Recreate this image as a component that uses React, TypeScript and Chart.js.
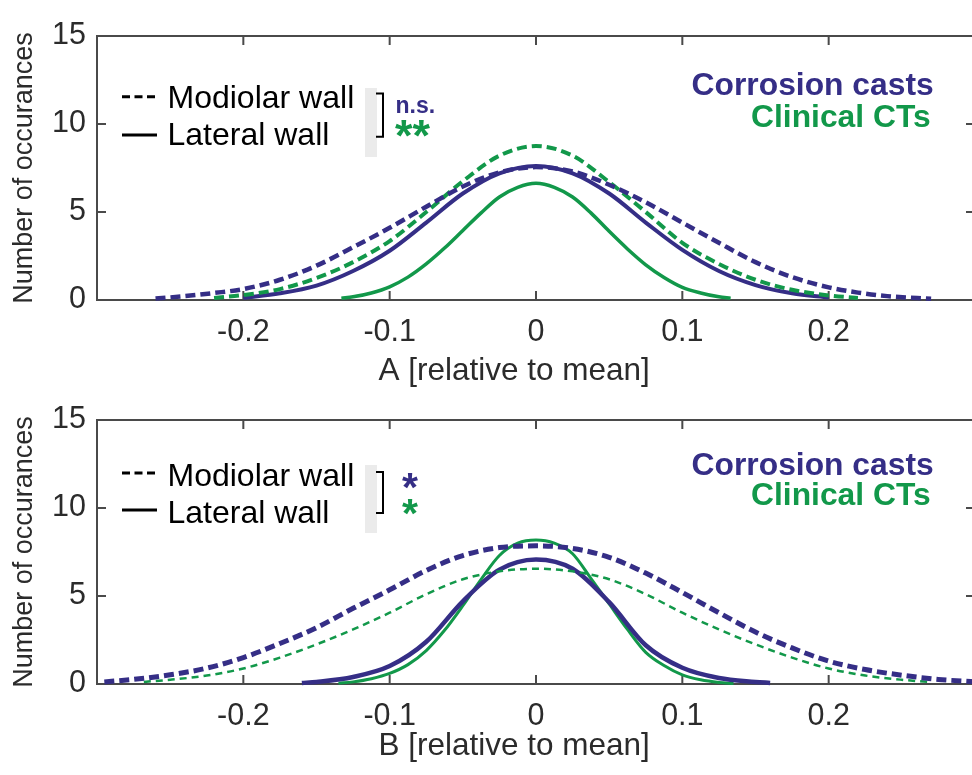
import React, { useEffect, useRef } from 'react';
import { Chart, registerables } from 'chart.js';

Chart.register(...registerables);

const FONT = "'Liberation Sans', Arial, Helvetica, sans-serif";
const BLUE = '#352e86';
const GREEN = '#12984a';
const AXIS = '#4a4a4a';
const TICKTXT = '#2b2b2b';

// Axis ticks
const xTicks = [-0.2, -0.1, 0, 0.1, 0.2];
const yTicks = [0, 5, 10, 15];
const xRange = [-0.3, 0.3];
const yRange = [0, 15];

// ---- Panel A (top) ----
const castsModiolarA_x = [-0.26, -0.24, -0.22, -0.2, -0.175, -0.15, -0.125, -0.1, -0.075, -0.05, -0.025, 0, 0.025, 0.05, 0.075, 0.1, 0.125, 0.15, 0.175, 0.2, 0.22, 0.24, 0.27];
const castsModiolarA_y = [0.08, 0.22, 0.4, 0.62, 1.15, 1.95, 3.0, 4.1, 5.3, 6.45, 7.25, 7.55, 7.3, 6.55, 5.55, 4.4, 3.25, 2.15, 1.3, 0.72, 0.42, 0.22, 0.07];

const castsLateralA_x = [-0.2, -0.175, -0.15, -0.125, -0.1, -0.075, -0.05, -0.025, 0, 0.025, 0.05, 0.075, 0.1, 0.125, 0.15, 0.175, 0.2];
const castsLateralA_y = [0.12, 0.38, 0.82, 1.65, 2.8, 4.4, 6.05, 7.2, 7.62, 7.2, 6.05, 4.4, 2.85, 1.65, 0.85, 0.38, 0.14];

const ctModiolarA_x = [-0.22, -0.2, -0.175, -0.15, -0.125, -0.1, -0.075, -0.05, -0.025, 0, 0.025, 0.05, 0.075, 0.1, 0.125, 0.15, 0.175, 0.2, 0.22];
const ctModiolarA_y = [0.12, 0.28, 0.62, 1.25, 2.15, 3.35, 5.0, 6.75, 8.2, 8.75, 8.2, 6.7, 5.0, 3.25, 2.05, 1.15, 0.58, 0.26, 0.12];

const ctLateralA_x = [-0.133, -0.125, -0.1125, -0.1, -0.0875, -0.075, -0.0625, -0.05, -0.0375, -0.025, -0.0125, 0, 0.0125, 0.025, 0.0375, 0.05, 0.0625, 0.075, 0.0875, 0.1, 0.1125, 0.125, 0.133];
const ctLateralA_y = [0.1, 0.18, 0.4, 0.75, 1.3, 2.05, 2.95, 3.95, 4.95, 5.85, 6.4, 6.63, 6.4, 5.85, 4.95, 3.9, 2.9, 2.0, 1.28, 0.72, 0.4, 0.18, 0.1];

// ---- Panel B (bottom) ----
const castsModiolarB_x = [-0.295, -0.275, -0.25, -0.225, -0.2, -0.175, -0.15, -0.125, -0.1, -0.075, -0.05, -0.025, 0, 0.025, 0.05, 0.075, 0.1, 0.125, 0.15, 0.175, 0.2, 0.225, 0.25, 0.275, 0.3];
const castsModiolarB_y = [0.12, 0.26, 0.52, 0.9, 1.5, 2.3, 3.2, 4.3, 5.35, 6.45, 7.3, 7.75, 7.85, 7.7, 7.2, 6.3, 5.2, 4.05, 2.95, 2.05, 1.3, 0.82, 0.5, 0.26, 0.13];

const ctModiolarB_x = [-0.268, -0.25, -0.225, -0.2, -0.175, -0.15, -0.125, -0.1, -0.075, -0.05, -0.025, 0, 0.025, 0.05, 0.075, 0.1, 0.125, 0.15, 0.175, 0.2, 0.225, 0.25, 0.268];
const ctModiolarB_y = [0.12, 0.24, 0.48, 0.88, 1.5, 2.25, 3.1, 4.05, 5.1, 5.95, 6.4, 6.55, 6.4, 5.95, 5.1, 4.05, 3.1, 2.25, 1.5, 0.88, 0.48, 0.24, 0.12];

const castsLateralB_x = [-0.16, -0.15, -0.125, -0.1, -0.075, -0.05, -0.025, 0, 0.025, 0.05, 0.075, 0.1, 0.125, 0.15, 0.16];
const castsLateralB_y = [0.06, 0.12, 0.4, 1.02, 2.4, 4.7, 6.5, 7.08, 6.55, 4.65, 2.2, 0.92, 0.34, 0.12, 0.06];

const ctLateralB_x = [-0.135, -0.125, -0.1125, -0.1, -0.0875, -0.075, -0.0625, -0.05, -0.0375, -0.025, -0.0125, 0, 0.0125, 0.025, 0.0375, 0.05, 0.0625, 0.075, 0.0875, 0.1, 0.1125, 0.125, 0.135];
const ctLateralB_y = [0.04, 0.12, 0.3, 0.6, 1.1, 1.9, 3.05, 4.45, 5.95, 7.3, 8.0, 8.18, 8.0, 7.4, 6.0, 4.55, 3.1, 1.8, 1.05, 0.52, 0.24, 0.09, 0.03];

const legendLabels = ['Modiolar wall', 'Lateral wall'];
const groupLabels = ['Corrosion casts', 'Clinical CTs'];
const yTitle = 'Number of occurances';
const xTitleA = 'A [relative to mean]';
const xTitleB = 'B [relative to mean]';

type Series = { label: string; xs: number[]; ys: number[]; color: string; dash: number[]; width: number };

function buildDatasets(series: Series[]) {
  return series.map((s) => ({
    label: s.label,
    data: s.xs.map((x, i) => ({ x, y: s.ys[i] })),
    borderColor: s.color,
    borderWidth: s.width,
    borderDash: s.dash,
    pointRadius: 0,
    cubicInterpolationMode: 'monotone' as const,
    fill: false,
    clip: false as any,
  }));
}

function inkText(ctx: CanvasRenderingContext2D, text: string, x: number, cy: number, font: string, color: string, align: 'left' | 'right' | 'center') {
  ctx.font = font;
  ctx.fillStyle = color;
  ctx.textAlign = 'left';
  ctx.textBaseline = 'alphabetic';
  const m = ctx.measureText(text);
  const L = m.actualBoundingBoxLeft, R = m.actualBoundingBoxRight;
  const A = m.actualBoundingBoxAscent, D = m.actualBoundingBoxDescent;
  let dx: number;
  if (align === 'left') dx = x + L;
  else if (align === 'right') dx = x - R;
  else dx = x - (R - L) / 2;
  const dy = cy - (D - A) / 2;
  ctx.fillText(text, dx, dy);
}

function fitSize(ctx: CanvasRenderingContext2D, text: string, targetW: number) {
  ctx.font = `bold 100px ${FONT}`;
  const m = ctx.measureText(text);
  const w = m.actualBoundingBoxLeft + m.actualBoundingBoxRight;
  return (100 * targetW) / w;
}

type Mark = { text: string; color: string; x: number; cy: number; inkW?: number; font?: string; align: 'left' | 'center' };
type Ann = {
  dashY: number; solidY: number; modY: number; latY: number;
  grayY: [number, number]; bracketY: [number, number];
  corrY: number; clinY: number;
  marks: Mark[];
};

const boxPlugin = {
  id: 'matlabBox',
  beforeDatasetsDraw(chart: any) {
    const { ctx, chartArea } = chart;
    const { left, top, right, bottom } = chartArea;
    const xs = chart.scales.x, ys = chart.scales.y;
    ctx.save();
    ctx.strokeStyle = AXIS;
    ctx.lineWidth = 2;
    ctx.strokeRect(left, top, right - left, bottom - top);
    const TL = 9;
    ctx.beginPath();
    xTicks.forEach((v) => {
      const p = xs.getPixelForValue(v);
      ctx.moveTo(p, bottom); ctx.lineTo(p, bottom - TL);
      ctx.moveTo(p, top); ctx.lineTo(p, top + TL);
    });
    yTicks.forEach((v) => {
      const p = ys.getPixelForValue(v);
      ctx.moveTo(left, p); ctx.lineTo(left + TL, p);
      ctx.moveTo(right, p); ctx.lineTo(right - TL, p);
    });
    ctx.stroke();
    ctx.restore();
  },
};

function makeAnnPlugin(ann: Ann) {
  return {
    id: 'panelAnn',
    afterDraw(chart: any) {
      const { ctx, chartArea } = chart;
      const L = chartArea.left, T = chartArea.top, R = chartArea.right;
      ctx.save();
      // legend samples
      ctx.strokeStyle = '#000';
      ctx.lineWidth = 3;
      ctx.setLineDash([8, 4.5]);
      ctx.beginPath();
      ctx.moveTo(L + 25, T + ann.dashY); ctx.lineTo(L + 58, T + ann.dashY);
      ctx.stroke();
      ctx.setLineDash([]);
      ctx.beginPath();
      ctx.moveTo(L + 25, T + ann.solidY); ctx.lineTo(L + 60, T + ann.solidY);
      ctx.stroke();
      inkText(ctx, legendLabels[0], L + 72.5, T + ann.modY, `32px ${FONT}`, '#000', 'left');
      inkText(ctx, legendLabels[1], L + 72.5, T + ann.latY, `32px ${FONT}`, '#000', 'left');
      // gray bar
      ctx.fillStyle = '#ebebeb';
      ctx.fillRect(L + 268, T + ann.grayY[0], 12, ann.grayY[1] - ann.grayY[0]);
      // bracket
      ctx.strokeStyle = '#000';
      ctx.lineWidth = 2;
      ctx.beginPath();
      ctx.moveTo(L + 279, T + ann.bracketY[0]);
      ctx.lineTo(L + 286, T + ann.bracketY[0]);
      ctx.lineTo(L + 286, T + ann.bracketY[1]);
      ctx.lineTo(L + 279, T + ann.bracketY[1]);
      ctx.stroke();
      // significance marks
      ann.marks.forEach((m) => {
        let font = m.font || '';
        if (m.inkW) font = `bold ${fitSize(ctx, m.text, m.inkW)}px ${FONT}`;
        inkText(ctx, m.text, L + m.x, T + m.cy, font, m.color, m.align);
      });
      // group labels
      inkText(ctx, groupLabels[0], R - 42, T + ann.corrY, `bold 31.8px ${FONT}`, BLUE, 'right');
      inkText(ctx, groupLabels[1], R - 45, T + ann.clinY, `bold 31.8px ${FONT}`, GREEN, 'right');
      ctx.restore();
    },
  };
}

type PanelProps = {
  top: number; height: number; padTop: number; xScaleH: number; titlePadBottom: number;
  xTitle: string; series: Series[]; ann: Ann;
};

function Panel(p: PanelProps) {
  const ref = useRef<HTMLCanvasElement>(null);
  useEffect(() => {
    if (!ref.current) return;
    const chart = new Chart(ref.current, {
      type: 'line',
      data: { datasets: buildDatasets(p.series) as any },
      options: {
        animation: false,
        responsive: true,
        maintainAspectRatio: false,
        layout: { padding: { left: 0, right: 15, top: p.padTop, bottom: 0 } },
        plugins: { legend: { display: false }, tooltip: { enabled: false } },
        scales: {
          x: {
            type: 'linear',
            min: xRange[0],
            max: xRange[1],
            grid: { display: false, drawTicks: false },
            border: { display: false },
            afterBuildTicks: (s: any) => { s.ticks = xTicks.map((v) => ({ value: v })); },
            afterFit: (s: any) => { s.height = p.xScaleH; },
            ticks: {
              padding: 14,
              color: TICKTXT,
              font: { family: FONT, size: 30.5 },
              maxRotation: 0,
              autoSkip: false,
              callback: (v: any) => (v === 0 ? '0' : String(v)),
            },
            title: {
              display: true,
              // trailing spaces shift the visible label slightly left, as in the reference
              text: p.xTitle + '     ',
              color: TICKTXT,
              font: { family: FONT, size: 31.5, lineHeight: 1 },
              padding: { top: 0, bottom: p.titlePadBottom },
            },
          },
          y: {
            type: 'linear',
            min: yRange[0],
            max: yRange[1],
            grid: { display: false, drawTicks: false },
            border: { display: false },
            afterBuildTicks: (s: any) => { s.ticks = yTicks.map((v) => ({ value: v })); },
            afterFit: (s: any) => { s.width = 97; },
            ticks: {
              padding: 11,
              color: TICKTXT,
              font: { family: FONT, size: 30.5 },
            },
            title: {
              display: true,
              text: yTitle,
              color: TICKTXT,
              font: { family: FONT, size: 27, lineHeight: 1 },
              padding: { top: 11, bottom: 0 },
            },
          },
        },
      } as any,
      plugins: [boxPlugin, makeAnnPlugin(p.ann)],
    });
    return () => chart.destroy();
  }, []);
  return (
    <div style={{ position: 'absolute', left: 0, top: p.top, width: 990, height: p.height }}>
      <canvas ref={ref} style={{ display: 'block' }} />
    </div>
  );
}

const seriesA: Series[] = [
  { label: 'Corrosion casts – Modiolar wall', xs: castsModiolarA_x, ys: castsModiolarA_y, color: BLUE, dash: [10, 5], width: 4.5 },
  { label: 'Clinical CTs – Modiolar wall', xs: ctModiolarA_x, ys: ctModiolarA_y, color: GREEN, dash: [10, 5], width: 4 },
  { label: 'Corrosion casts – Lateral wall', xs: castsLateralA_x, ys: castsLateralA_y, color: BLUE, dash: [], width: 4 },
  { label: 'Clinical CTs – Lateral wall', xs: ctLateralA_x, ys: ctLateralA_y, color: GREEN, dash: [], width: 3.5 },
];

const seriesB: Series[] = [
  { label: 'Corrosion casts – Modiolar wall', xs: castsModiolarB_x, ys: castsModiolarB_y, color: BLUE, dash: [10, 5], width: 5 },
  { label: 'Clinical CTs – Modiolar wall', xs: ctModiolarB_x, ys: ctModiolarB_y, color: GREEN, dash: [7, 5], width: 2.5 },
  { label: 'Corrosion casts – Lateral wall', xs: castsLateralB_x, ys: castsLateralB_y, color: BLUE, dash: [], width: 4.5 },
  { label: 'Clinical CTs – Lateral wall', xs: ctLateralB_x, ys: ctLateralB_y, color: GREEN, dash: [], width: 3 },
];

const annA: Ann = {
  dashY: 60.7, solidY: 99, modY: 60.5, latY: 97.5,
  grayY: [52, 121], bracketY: [57.5, 100.7],
  corrY: 47.5, clinY: 79,
  marks: [
    { text: 'n.s.', color: BLUE, x: 299.5, cy: 70.5, font: `bold 23px ${FONT}`, align: 'left' },
    { text: '**', color: GREEN, x: 298, cy: 92.5, inkW: 35, align: 'left' },
  ],
};

const annB: Ann = {
  dashY: 53, solidY: 90, modY: 54, latY: 91,
  grayY: [45, 113], bracketY: [52, 93],
  corrY: 43, clinY: 73,
  marks: [
    { text: '*', color: BLUE, x: 313, cy: 61, inkW: 16, align: 'center' },
    { text: '*', color: GREEN, x: 313, cy: 87, inkW: 16, align: 'center' },
  ],
};

export default function App() {
  return (
    <div style={{ position: 'fixed', left: 0, top: 0, width: 972, height: 775, overflow: 'hidden', background: '#fff' }}>
      <Panel top={0} height={388} padTop={36} xScaleH={88} titlePadBottom={1} xTitle={xTitleA} series={seriesA} ann={annA} />
      <Panel top={388} height={387} padTop={32} xScaleH={91} titlePadBottom={13} xTitle={xTitleB} series={seriesB} ann={annB} />
    </div>
  );
}
